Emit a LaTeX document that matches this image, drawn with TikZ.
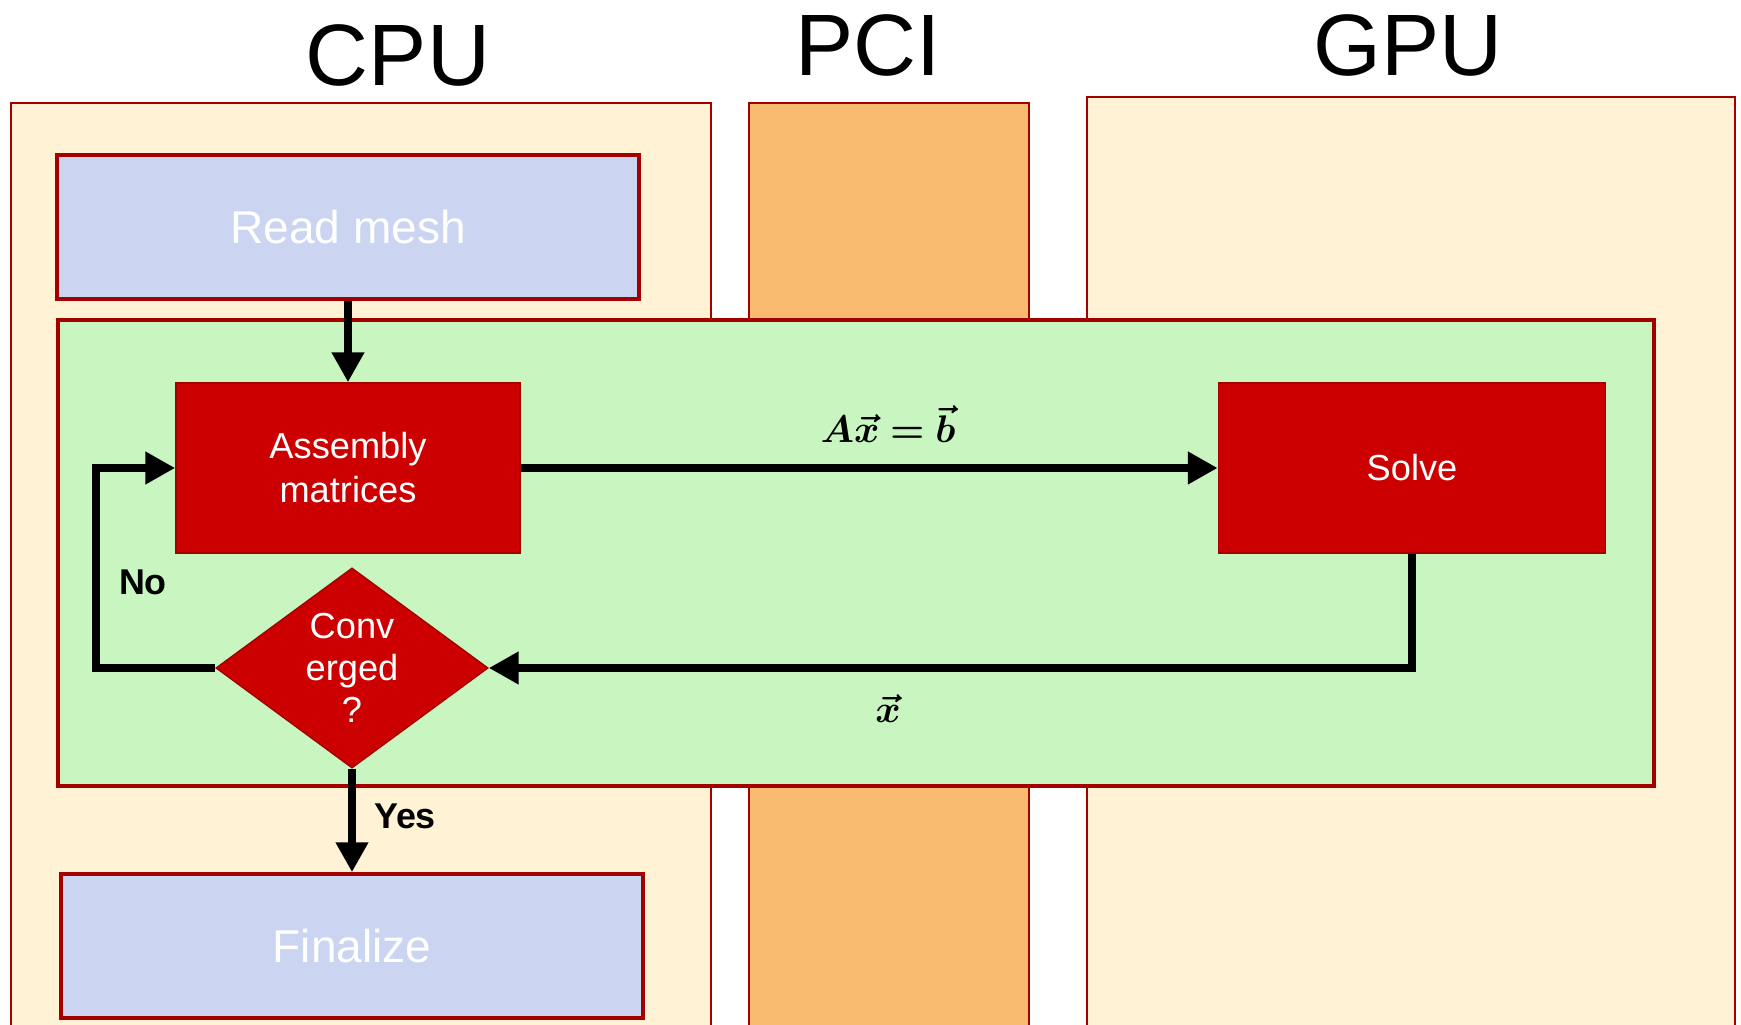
\documentclass[tikz,border=0pt]{standalone}
\usepackage{fontspec}
\setmainfont{Liberation Sans}
\usepackage{amsmath, bm}
\usetikzlibrary{calc, arrows.meta, shapes.geometric}

\definecolor{edge}{HTML}{A30000}
\definecolor{hostfill}{HTML}{FFF2D5}
\definecolor{busfill}{HTML}{F8BB6F}
\definecolor{loopgreen}{HTML}{C8F5C0}
\definecolor{stageblue}{HTML}{CBD5F2}
\definecolor{taskred}{HTML}{CC0000}

\begin{document}
\begin{tikzpicture}[x=0.01cm, y=-0.01cm,
	>={Triangle[length=8.5pt, width=8.8pt]},
	flow/.style={->, line width=2.5pt},
	lane/.style={draw=edge, line width=.8pt},
	stage/.style={draw=edge, line width=1pt, fill=stageblue, text=white,
		font=\fontsize{13.1}{15}\selectfont, inner sep=0pt,
		minimum width=5.82cm, minimum height=1.44cm},
	task/.style={draw=edge, line width=.4pt, fill=taskred, text=white,
		font=\fontsize{10.3}{12.5}\selectfont, align=center, inner sep=0pt,
		minimum height=1.7cm},
	title/.style={anchor=base, font=\fontsize{24.8}{30}\selectfont},
	tag/.style={anchor=base, font=\bfseries\fontsize{10.2}{12}\selectfont}]

	\clip (0, 0) rectangle (1741, 1025);

	% Columns: host, bus, device
	\filldraw[lane, fill=hostfill] (11, 103) rectangle (711, 1040);
	\filldraw[lane, fill=busfill]  (749, 103) rectangle (1029, 1040);
	\filldraw[lane, fill=hostfill] (1087, 97) rectangle (1735, 1040);

	\node[title] (cpu) at (398, 86) {CPU};
	\node[title] (pci) at (868, 76) {PCI};
	\node[title] (gpu) at (1408, 76) {GPU};

	% Iteration loop
	\filldraw[draw=edge, line width=.9pt, fill=loopgreen] (58, 320) rectangle (1654, 786);

	% Steps
	\node[stage] (readmesh) at (348, 227) {Read mesh};
	\node[stage] (finalize) at (352, 946) {Finalize};
	\node[task, minimum width=3.44cm] (assembly) at (348, 468) {Assembly\\matrices};
	\node[task, minimum width=3.87cm] (solve) at (1412, 468) {Solve};
	\node[task, shape=diamond, aspect=1.36, minimum width=2.72cm, minimum height=2cm,
		font=\fontsize{10.3}{12}\selectfont] (conv) at (352, 668) {Conv\\erged\\?};

	% Connectors
	\coordinate (back) at (96, 668);
	\draw[flow] (readmesh.south) -- (assembly.north);
	\draw[flow] (assembly.east) -- (solve.west);
	\draw[flow] (solve.south) |- (conv.east);
	\draw[flow] (conv.west) -- (back) |- (assembly.west);
	\draw[flow] (conv.south) -- (finalize.north);

	% Labels
	\node[anchor=base, font=\fontsize{11}{13}\selectfont] (system) at (888, 443) {$\bm{A\vec{x}=\vec{b}}$};
	\node[anchor=base, font=\fontsize{11}{13}\selectfont] (result) at (888, 723) {$\bm{\vec{x}}$};
	\node[tag] (no) at (143, 595) {No};
	\node[tag] (yes) at (405, 829) {Yes};

\end{tikzpicture}
\end{document}
